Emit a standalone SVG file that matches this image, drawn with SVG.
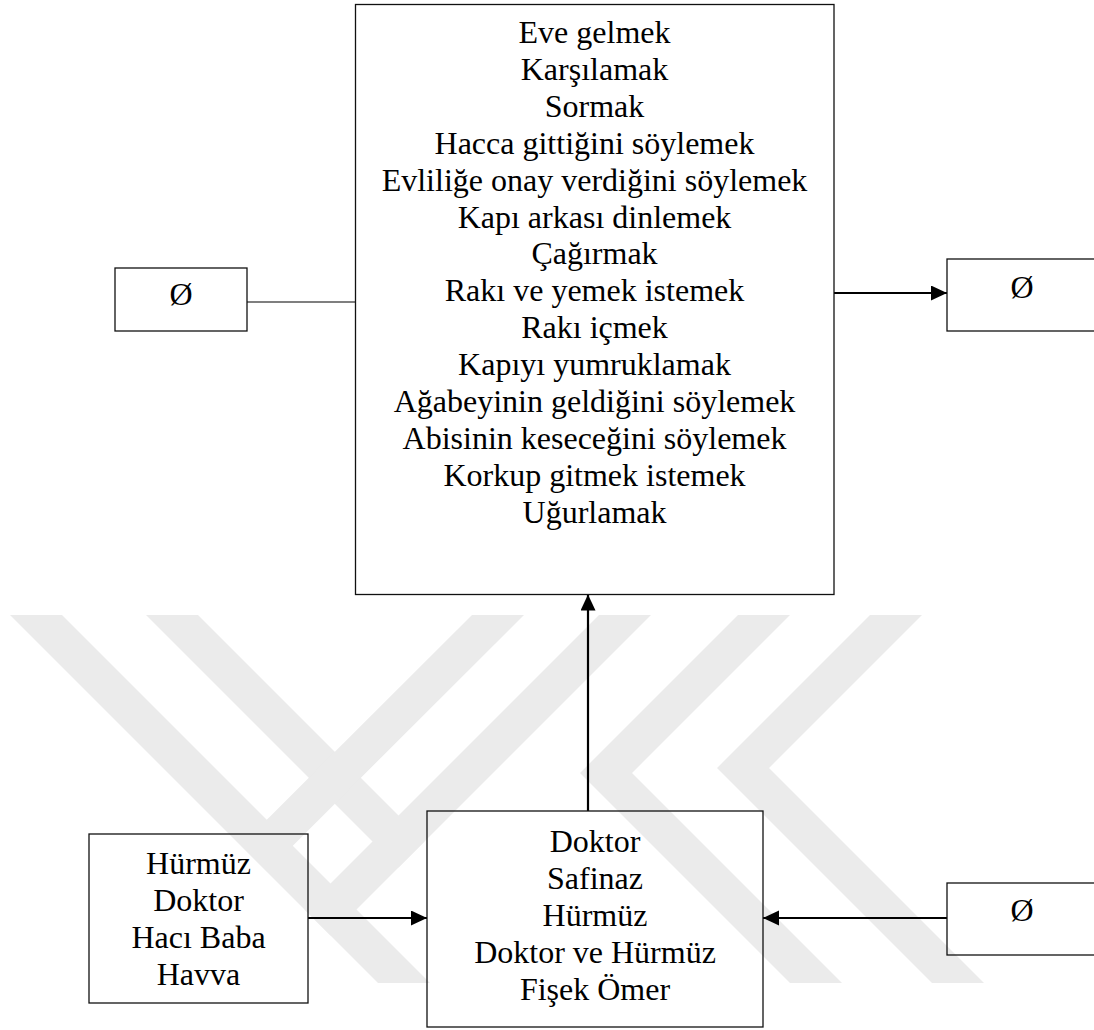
<svg xmlns="http://www.w3.org/2000/svg" width="1094" height="1030" viewBox="0 0 1094 1030">
  <style>
    .box { fill: none; stroke: #111; stroke-width: 1.3; }
    .lbl { font-family: "Liberation Serif", "Times New Roman", serif; font-size: 32px; fill: #000; text-anchor: middle; }
    .wire { stroke: #000; stroke-width: 1.2; fill: none; }
    .flow { stroke: #000; stroke-width: 2.2; fill: none; marker-end: url(#head); }
    .mark { fill: #ebebeb; }
  </style>
  <defs>
    <marker id="head" markerUnits="userSpaceOnUse" markerWidth="17" markerHeight="16" refX="16" refY="7.5" orient="auto">
      <path d="M0,0 L16,7.5 L0,15 Z" fill="#000"/>
    </marker>
  </defs>
  <rect width="1094" height="1030" fill="#fff"/>

  <!-- background emblem: diagonal stripes -->
  <g id="emblem">
    <polygon class="mark" points="10,615 62,615 430,983 378,983"/>
    <polygon class="mark" points="599,615 651,615 330.5,935.5 304.5,909.5"/>
    <polygon class="mark" points="146,615 198,615 424.5,841.5 398.5,867.5"/>
    <polygon class="mark" points="472,615 524,615 267,871.5 241,845.5"/>
    <polygon class="mark" points="738,615 790,615 632,773 842,983 790,983 580,773"/>
    <polygon class="mark" points="870,615 922,615 769,768 984,983 932,983 717,768"/>
  </g>

  <g id="connectors">
    <line class="wire" x1="247" y1="302" x2="355.5" y2="302"/>
    <line class="flow" x1="834" y1="293" x2="947" y2="293"/>
    <line class="flow" x1="588" y1="811" x2="588" y2="594.5"/>
    <line class="flow" x1="308" y1="918" x2="427" y2="918"/>
    <line class="flow" x1="947" y1="918" x2="763" y2="918"/>
  </g>

  <g id="actions">
    <rect class="box" x="355.5" y="4.5" width="478.5" height="590"/>
    <text class="lbl" x="594.5" y="43">Eve gelmek</text>
    <text class="lbl" x="594.5" y="79.9">Karşılamak</text>
    <text class="lbl" x="594.5" y="116.8">Sormak</text>
    <text class="lbl" x="594.5" y="153.7">Hacca gittiğini söylemek</text>
    <text class="lbl" x="594.5" y="190.6">Evliliğe onay verdiğini söylemek</text>
    <text class="lbl" x="594.5" y="227.5">Kapı arkası dinlemek</text>
    <text class="lbl" x="594.5" y="264.4">Çağırmak</text>
    <text class="lbl" x="594.5" y="301.3">Rakı ve yemek istemek</text>
    <text class="lbl" x="594.5" y="338.2">Rakı içmek</text>
    <text class="lbl" x="594.5" y="375.1">Kapıyı yumruklamak</text>
    <text class="lbl" x="594.5" y="412">Ağabeyinin geldiğini söylemek</text>
    <text class="lbl" x="594.5" y="448.9">Abisinin keseceğini söylemek</text>
    <text class="lbl" x="594.5" y="485.8">Korkup gitmek istemek</text>
    <text class="lbl" x="594.5" y="522.7">Uğurlamak</text>
  </g>

  <g id="left-empty">
    <rect class="box" x="115" y="268" width="132" height="63"/>
    <text class="lbl" x="181" y="305">Ø</text>
  </g>

  <g id="right-empty-top">
    <rect class="box" x="947" y="259" width="160" height="72"/>
    <text class="lbl" x="1022" y="298">Ø</text>
  </g>

  <g id="helpers">
    <rect class="box" x="89" y="834" width="219" height="169"/>
    <text class="lbl" x="198.5" y="874">Hürmüz</text>
    <text class="lbl" x="198.5" y="911">Doktor</text>
    <text class="lbl" x="198.5" y="948">Hacı Baba</text>
    <text class="lbl" x="198.5" y="984.5">Havva</text>
  </g>

  <g id="subjects">
    <rect class="box" x="427" y="811" width="336" height="216"/>
    <text class="lbl" x="595" y="852">Doktor</text>
    <text class="lbl" x="595" y="888.9">Safinaz</text>
    <text class="lbl" x="595" y="925.8">Hürmüz</text>
    <text class="lbl" x="595" y="962.7">Doktor ve Hürmüz</text>
    <text class="lbl" x="595" y="999.6">Fişek Ömer</text>
  </g>

  <g id="right-empty-bottom">
    <rect class="box" x="947" y="883" width="160" height="72"/>
    <text class="lbl" x="1022" y="921">Ø</text>
  </g>
</svg>
